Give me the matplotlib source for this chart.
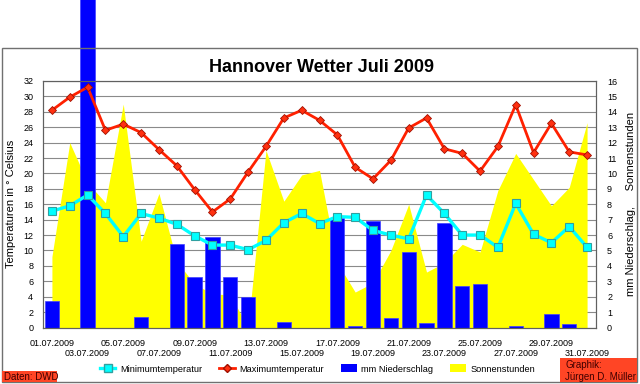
import numpy as np
import matplotlib
matplotlib.use("Agg")
import matplotlib.pyplot as plt
from matplotlib.patches import Rectangle
from matplotlib.lines import Line2D
from matplotlib.patches import Patch

plt.rcParams['font.family'] = ['Liberation Sans', 'DejaVu Sans']

days = np.arange(1, 32)
dates = ['%02d.07.2009' % d for d in days]

tmin = [15.1, 15.8, 17.2, 14.8, 11.8, 14.8, 14.2, 13.4, 11.9, 10.7,
        10.7, 10.1, 11.3, 13.6, 14.8, 13.5, 14.4, 14.3, 12.6, 12.0,
        11.5, 17.2, 14.8, 12.0, 12.0, 10.4, 16.1, 12.1, 11.0, 13.1, 10.4]
tmax = [28.2, 29.9, 31.2, 25.6, 26.4, 25.3, 23.1, 21.0, 17.9, 15.0,
        16.7, 20.2, 23.5, 27.2, 28.2, 26.9, 25.0, 20.8, 19.3, 21.7,
        25.9, 27.2, 23.2, 22.6, 20.3, 23.5, 28.9, 22.7, 26.5, 22.8, 22.4]
rain = [1.7, 0, 40.0, 0, 0, 0.7, 0, 5.4, 3.3, 5.9,
        3.3, 2.0, 0, 0.37, 0, 0, 7.1, 0.11, 6.9, 0.59,
        4.9, 0.28, 6.8, 2.7, 2.8, 0, 0.09, 0, 0.87, 0.2, 0]
sun = [4.6, 12.0, 9.4, 8.1, 14.5, 5.6, 8.7, 4.3, 2.8, 2.2,
       2.1, 0.0, 11.5, 8.2, 9.9, 10.2, 4.2, 2.3, 2.9, 5.0,
       8.0, 3.6, 4.2, 5.4, 4.9, 8.9, 11.3, 9.6, 7.9, 9.1, 13.3]

fig = plt.figure(figsize=(6.4, 3.84), dpi=100)
fig.patches.append(Rectangle((2/640, 2/384), 635/640, 334/384, transform=fig.transFigure,
                             fill=False, edgecolor='#707070', lw=1, zorder=0))

ax = fig.add_axes([43/640, 1 - 327.5/384, 553/640, 246.5/384])
ax2 = ax.twinx()
ax.set_zorder(2)
ax.patch.set_visible(False)

# right axis: sunshine area + precipitation bars + grid
ax2.set_axisbelow(True)
ax2.grid(True, which='both', color='#8a8a8a', lw=0.8)
ax2.fill_between(days, 0, sun, color='#FFFF00', lw=0, zorder=1)
ax2.bar(days, rain, width=0.8, color='#0000FF', edgecolor='#4040ff', lw=0.5,
        zorder=2, clip_on=False)
ax2.set_ylim(0, 16)
ax2.set_yticks(range(0, 17))
ax2.tick_params(axis='y', labelsize=6.5, length=0, pad=8)
ax2.set_ylabel('mm Niederschlag,     Sonnenstunden', fontsize=8, labelpad=6)

# left axis: temperatures
ax.plot(days, tmin, color='#00FFFF', lw=2.4, marker='s', ms=6,
        mfc='#00FFFF', mec='#30a0a0', mew=0.8, zorder=3)
ax.plot(days, tmax, color='#FF2000', lw=2, marker='D', ms=4,
        mfc='#FF3010', mec='#a01000', mew=0.6, zorder=4)
ax.set_ylim(0, 32)
ax.set_yticks(range(0, 33, 2))
ax.set_xlim(0.5, 31.5)
ax.set_xticks(days[::4])
ax.set_xticklabels(dates[::4], fontsize=6.5)
ax.set_xticks(days[2::4], minor=True)
ax.set_xticklabels(dates[2::4], minor=True, fontsize=6.5)
ax.tick_params(axis='x', which='major', length=0, pad=8)
ax.tick_params(axis='x', which='minor', length=0, pad=15.8)
ax.tick_params(axis='y', labelsize=6.5, length=0, pad=7)
ax.set_ylabel('Temperaturen in \u00b0 Celsius', fontsize=8, labelpad=5)

for a in (ax, ax2):
    for s in a.spines.values():
        s.set_color('#606060')
        s.set_linewidth(0.8)

fig.text(0.503, 1 - 67.5/384, 'Hannover Wetter Juli 2009', ha='center', va='center',
         fontsize=13, fontweight='bold')

handles = [
    Line2D([], [], color='#00FFFF', lw=2.4, marker='s', ms=6, mfc='#00FFFF', mec='#30a0a0'),
    Line2D([], [], color='#FF2000', lw=2, marker='D', ms=4, mfc='#FF3010', mec='#a01000'),
    Patch(facecolor='#0000FF'),
    Patch(facecolor='#FFFF00'),
]
fig.legend(handles, ['Minimumtemperatur', 'Maximumtemperatur', 'mm Niederschlag', 'Sonnenstunden'],
           loc='center', bbox_to_anchor=(0.496, 1 - 369/384), ncol=4, frameon=False,
           fontsize=6.7, handlelength=1.7, handletextpad=0.5, columnspacing=1.8,
           handleheight=0.9)

fig.patches.append(Rectangle((2/640, 2/384), 55/640, 11/384, transform=fig.transFigure,
                             facecolor='#FF4525', edgecolor='none', zorder=1))
fig.text(4/640, 7.5/384, 'Daten: DWD', fontsize=7, va='center', ha='left', color='#400000')
fig.patches.append(Rectangle((560/640, 2/384), 77/640, 24/384, transform=fig.transFigure,
                             facecolor='#FF4525', edgecolor='none', zorder=1))
fig.text(565/640, 19/384, 'Graphik:', fontsize=7, va='center', ha='left', color='#400000')
fig.text(565/640, 7.5/384, 'J\u00fcrgen D. M\u00fcller', fontsize=7, va='center', ha='left',
         color='#400000')

fig.savefig('out.png', dpi=100)
